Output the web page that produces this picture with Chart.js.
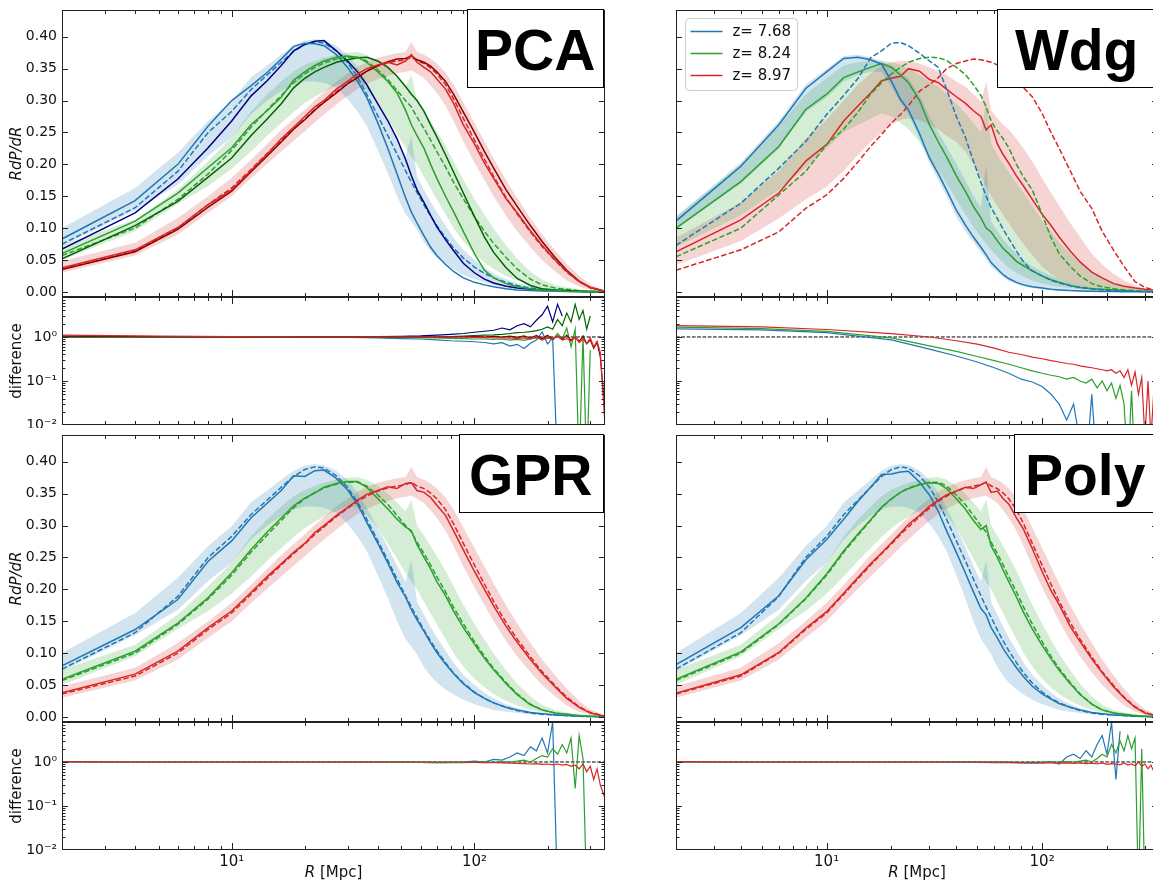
<!DOCTYPE html>
<html>
<head>
<meta charset="utf-8">
<script src="https://cdn.jsdelivr.net/npm/chart.js@4.4.1/dist/chart.umd.min.js"></script>
<style>
  html, body { margin: 0; padding: 0; background: #fff; overflow: hidden; width: 1153px; height: 880px; }
  canvas { position: absolute; }
</style>
</head>
<body>
<canvas id="pcaMain"></canvas>
<canvas id="pcaDiff"></canvas>
<canvas id="wdgMain"></canvas>
<canvas id="wdgDiff"></canvas>
<canvas id="gprMain"></canvas>
<canvas id="gprDiff"></canvas>
<canvas id="polyMain"></canvas>
<canvas id="polyDiff"></canvas>
<script>
/* ---------- data ---------- */
const R  = [2,4,6,8,10,12,14,16,18,20,22,24,27,30,33,36,40,44,48,52,55,58,62,66,70,76,82,90,100,110,120,135,150,170,190,215,240,270,300,345];
const RD = [2,5,10,20,30,40,50,60,70,80,90,100,110,120,130,140,150,160,170,180,190,200,210,220,230,240,250,260,270,280,290,300,310,320,330,345];

const REDSHIFTS = ['z= 7.68', 'z= 8.24', 'z= 8.97'];
const METHODS = ['PCA', 'Wdg', 'GPR', 'Poly'];
const Y_TICKS = [0, 0.05, 0.10, 0.15, 0.20, 0.25, 0.30, 0.35, 0.40];
const DIFF_TICKS = [0.01, 0.1, 1];
const DIFF_MINOR = [0.02,0.03,0.04,0.05,0.06,0.07,0.08,0.09,0.2,0.3,0.4,0.5,0.6,0.7,0.8,0.9,2,3,4,5,6,7,8];
const X_LABEL_TICKS = [10, 100];
const X_MINOR_TICKS = [3,4,5,6,7,8,9,20,30,40,50,60,70,80,90,200,300];
const SUP = { 0.01: '10\u207B\u00B2', 0.1: '10\u207B\u00B9', 1: '10\u2070', 10: '10\u00B9', 100: '10\u00B2' };
const X_TITLE = ['R', ' [Mpc]'];
const REF_X = [2, 345];
const REF_Y = [1, 1];

// truth curves (dashed) shared by PCA / GPR / Poly
const TRUE_BLUE  = [0.075,0.132,0.189,0.250,0.283, 0.317,0.340,0.360,0.377,0.388, 0.392,0.390,0.378,0.360,0.337, 0.310,0.276,0.245,0.216,0.190, 0.172,0.156,0.136,0.119,0.104, 0.085,0.069,0.053,0.039,0.029, 0.022,0.015,0.010,0.006,0.004, 0.003,0.002,0.001,0.0005,0.0002];
const TRUE_GREEN = [0.057,0.100,0.145,0.185,0.222, 0.258,0.285,0.308,0.328,0.342, 0.352,0.359,0.365,0.368,0.368, 0.362,0.348,0.333,0.316,0.300, 0.290,0.274,0.256,0.238,0.220, 0.196,0.172,0.146,0.118,0.095, 0.076,0.054,0.036,0.020,0.011, 0.006,0.004,0.002,0.001,0.0005];
const TRUE_RED   = [0.036,0.064,0.100,0.137,0.163, 0.192,0.217,0.238,0.256,0.271, 0.286,0.298,0.314,0.327,0.338, 0.346,0.354,0.359,0.362,0.364, 0.368,0.362,0.358,0.351,0.342, 0.325,0.303,0.272,0.238,0.208, 0.181,0.148,0.122,0.094,0.071, 0.049,0.031,0.016,0.007,0.001];

// scatter bands shared by PCA / GPR / Poly
const BAND_BLUE_HI  = [0.100,0.163,0.218,0.268,0.299, 0.336,0.355,0.372,0.386,0.394, 0.396,0.395,0.386,0.372,0.352, 0.328,0.296,0.266,0.237,0.212, 0.245,0.180,0.160,0.141,0.125, 0.104,0.085,0.066,0.050,0.038, 0.029,0.020,0.014,0.009,0.006, 0.004,0.003,0.002,0.001,0.0005];
const BAND_BLUE_LO  = [0.072,0.128,0.168,0.213,0.242, 0.278,0.300,0.315,0.325,0.330, 0.330,0.328,0.320,0.303,0.283, 0.260,0.222,0.186,0.150,0.122, 0.110,0.098,0.078,0.064,0.054, 0.043,0.035,0.027,0.020,0.015, 0.011,0.008,0.006,0.004,0.003, 0.002,0.001,0.0006,0.0003,0.0001];
const BAND_GREEN_HI = [0.074,0.113,0.160,0.205,0.242, 0.283,0.310,0.330,0.346,0.356, 0.362,0.367,0.372,0.375,0.376, 0.372,0.362,0.350,0.336,0.322, 0.340,0.300,0.284,0.268,0.252, 0.229,0.205,0.176,0.146,0.121, 0.099,0.073,0.052,0.032,0.019, 0.011,0.007,0.004,0.002,0.001];
const BAND_GREEN_LO = [0.050,0.095,0.138,0.166,0.193, 0.220,0.245,0.265,0.282,0.296, 0.306,0.314,0.324,0.330,0.328, 0.316,0.296,0.272,0.248,0.226, 0.212,0.200,0.180,0.162,0.145, 0.122,0.100,0.079,0.060,0.046, 0.036,0.025,0.018,0.011,0.007, 0.004,0.002,0.001,0.0005,0.0002];
const BAND_RED_HI   = [0.048,0.077,0.116,0.150,0.179, 0.207,0.232,0.254,0.271,0.286, 0.301,0.313,0.330,0.342,0.353, 0.360,0.367,0.371,0.374,0.376, 0.392,0.376,0.372,0.366,0.358, 0.344,0.325,0.297,0.265,0.236, 0.209,0.175,0.147,0.116,0.090, 0.065,0.044,0.025,0.012,0.002];
const BAND_RED_LO   = [0.030,0.057,0.090,0.124,0.150, 0.178,0.201,0.220,0.237,0.252, 0.266,0.278,0.294,0.307,0.318, 0.326,0.334,0.339,0.343,0.345, 0.347,0.342,0.335,0.324,0.312, 0.292,0.268,0.236,0.203,0.175, 0.150,0.119,0.095,0.070,0.050, 0.032,0.018,0.008,0.003,0.0005];

// PCA predictions (two solid lines per redshift)
const PCA_BLUE    = [0.083,0.143,0.200,0.260,0.300, 0.323,0.344,0.365,0.385,0.390, 0.389,0.386,0.372,0.352,0.330, 0.305,0.265,0.225,0.185,0.148, 0.125,0.108,0.088,0.070,0.057, 0.043,0.032,0.022,0.015,0.011, 0.008,0.005,0.003,0.002,0.0015, 0.001,0.0008,0.0005,0.0003,0.0001];
const PCA_NAVY    = [0.067,0.124,0.177,0.226,0.268, 0.307,0.331,0.355,0.378,0.388, 0.393,0.394,0.378,0.362,0.345, 0.325,0.295,0.268,0.240,0.208, 0.182,0.160,0.140,0.120,0.102, 0.082,0.065,0.045,0.030,0.020, 0.014,0.009,0.006,0.004,0.003, 0.002,0.001,0.0005,0.0003,0.0001];
const PCA_GREEN   = [0.060,0.111,0.155,0.195,0.226, 0.262,0.284,0.305,0.332,0.345, 0.355,0.362,0.368,0.370,0.368, 0.360,0.345,0.330,0.312,0.285, 0.262,0.245,0.225,0.200,0.178, 0.150,0.126,0.095,0.060,0.034, 0.022,0.013,0.008,0.005,0.003, 0.002,0.001,0.0006,0.0003,0.0001];
const PCA_DKGREEN = [0.052,0.104,0.142,0.180,0.210, 0.245,0.271,0.295,0.320,0.335, 0.345,0.352,0.360,0.364,0.367, 0.368,0.362,0.352,0.338,0.322, 0.310,0.300,0.283,0.262,0.243, 0.215,0.188,0.155,0.118,0.086, 0.062,0.038,0.021,0.010,0.005, 0.003,0.002,0.001,0.0005,0.0002];
const PCA_RED     = [0.038,0.066,0.101,0.137,0.160, 0.190,0.216,0.240,0.258,0.275, 0.290,0.300,0.318,0.330,0.342, 0.350,0.356,0.360,0.356,0.362, 0.372,0.360,0.352,0.345,0.334, 0.318,0.296,0.262,0.232,0.202, 0.178,0.146,0.124,0.096,0.073, 0.050,0.032,0.016,0.007,0.001];
const PCA_DKRED   = [0.035,0.063,0.098,0.133,0.158, 0.188,0.213,0.235,0.255,0.270, 0.285,0.297,0.312,0.326,0.336, 0.346,0.355,0.361,0.365,0.366, 0.370,0.364,0.360,0.354,0.345, 0.330,0.310,0.282,0.250,0.220, 0.194,0.160,0.134,0.104,0.079, 0.054,0.034,0.017,0.007,0.001];

// GPR predictions
const GPR_BLUE  = [0.080,0.137,0.184,0.244,0.276, 0.312,0.335,0.355,0.378,0.377, 0.386,0.387,0.374,0.356,0.333, 0.305,0.272,0.241,0.211,0.188, 0.168,0.152,0.134,0.116,0.101, 0.083,0.068,0.052,0.038,0.029, 0.022,0.015,0.011,0.007,0.005, 0.003,0.002,0.001,0.0006,0.0003];
const GPR_GREEN = [0.059,0.103,0.147,0.187,0.226, 0.262,0.290,0.312,0.331,0.343, 0.351,0.360,0.366,0.369,0.369, 0.360,0.342,0.326,0.310,0.298, 0.292,0.270,0.250,0.232,0.212, 0.190,0.166,0.140,0.114,0.092, 0.074,0.052,0.035,0.019,0.011, 0.006,0.004,0.002,0.001,0.0005];
const GPR_RED   = [0.038,0.067,0.103,0.140,0.166, 0.195,0.220,0.240,0.258,0.272, 0.289,0.300,0.316,0.328,0.340, 0.349,0.355,0.361,0.358,0.366, 0.367,0.355,0.352,0.344,0.332, 0.316,0.292,0.262,0.228,0.200, 0.174,0.142,0.117,0.090,0.068, 0.047,0.029,0.015,0.006,0.001];

// Poly predictions
const POLY_BLUE  = [0.082,0.140,0.190,0.246,0.278, 0.310,0.338,0.360,0.380,0.381, 0.384,0.385,0.368,0.348,0.322, 0.292,0.258,0.226,0.196,0.170, 0.160,0.140,0.124,0.107,0.094, 0.077,0.063,0.048,0.036,0.028, 0.021,0.015,0.011,0.007,0.005, 0.003,0.002,0.001,0.0006,0.0003];
const POLY_GREEN = [0.059,0.102,0.146,0.186,0.224, 0.260,0.287,0.309,0.329,0.342, 0.352,0.358,0.364,0.367,0.366, 0.358,0.342,0.326,0.308,0.294, 0.300,0.268,0.250,0.230,0.212, 0.188,0.164,0.138,0.112,0.091, 0.073,0.052,0.035,0.020,0.011, 0.006,0.004,0.002,0.001,0.0005];
const POLY_RED   = [0.037,0.066,0.101,0.139,0.165, 0.194,0.219,0.240,0.257,0.273, 0.288,0.302,0.316,0.330,0.340, 0.348,0.354,0.360,0.358,0.364, 0.368,0.352,0.354,0.342,0.334, 0.312,0.294,0.264,0.228,0.198, 0.176,0.142,0.118,0.091,0.069, 0.047,0.030,0.015,0.006,0.001];

// Wdg: solid predictions, dashed references, bands
const WDG_BLUE   = [0.111,0.197,0.262,0.319,0.345, 0.366,0.368,0.364,0.357,0.330, 0.302,0.285,0.248,0.210,0.185, 0.160,0.128,0.105,0.086,0.070, 0.058,0.046,0.036,0.027,0.021, 0.015,0.011,0.008,0.006,0.004, 0.003,0.002,0.0015,0.001,0.0008, 0.0005,0.0004,0.0003,0.0002,0.0001];
const WDG_GREEN  = [0.100,0.173,0.228,0.286,0.310, 0.336,0.345,0.352,0.358,0.352, 0.340,0.328,0.300,0.262,0.235, 0.212,0.182,0.158,0.134,0.116, 0.100,0.094,0.080,0.068,0.060, 0.048,0.041,0.033,0.025,0.019, 0.015,0.010,0.007,0.005,0.004, 0.003,0.002,0.001,0.0006,0.0003];
const WDG_RED    = [0.063,0.113,0.155,0.205,0.231, 0.268,0.292,0.312,0.331,0.335, 0.338,0.350,0.346,0.333,0.328, 0.318,0.306,0.296,0.284,0.275, 0.254,0.262,0.232,0.215,0.202, 0.182,0.166,0.145,0.122,0.104, 0.086,0.064,0.047,0.031,0.022, 0.013,0.009,0.006,0.004,0.002];
const WDGT_BLUE  = [0.073,0.139,0.194,0.236,0.278, 0.308,0.335,0.367,0.378,0.390, 0.391,0.386,0.374,0.362,0.352, 0.318,0.275,0.243,0.205,0.172, 0.150,0.132,0.115,0.098,0.084, 0.064,0.047,0.033,0.025,0.018, 0.014,0.010,0.007,0.005,0.003, 0.002,0.0015,0.001,0.0005,0.0002];
const WDGT_GREEN = [0.055,0.100,0.152,0.189,0.231, 0.255,0.282,0.310,0.328,0.342, 0.352,0.360,0.366,0.368,0.367, 0.363,0.352,0.341,0.325,0.308, 0.290,0.268,0.252,0.240,0.226, 0.200,0.180,0.160,0.122,0.085, 0.060,0.040,0.025,0.013,0.008, 0.005,0.003,0.002,0.001,0.0005];
const WDGT_RED   = [0.034,0.066,0.094,0.131,0.152, 0.178,0.204,0.228,0.247,0.265, 0.278,0.292,0.315,0.325,0.336, 0.350,0.358,0.362,0.365,0.364, 0.362,0.360,0.356,0.352,0.344, 0.333,0.320,0.306,0.280,0.250, 0.225,0.190,0.158,0.131,0.095, 0.065,0.040,0.016,0.007,0.001];
const WDG_BAND_BLUE_HI  = [0.118,0.203,0.268,0.325,0.350, 0.370,0.372,0.368,0.362,0.355, 0.345,0.335,0.308,0.275,0.250, 0.228,0.200,0.175,0.150,0.132, 0.200,0.110,0.095,0.082,0.072, 0.060,0.050,0.040,0.032,0.025, 0.020,0.014,0.010,0.007,0.005, 0.004,0.003,0.002,0.001,0.0005];
const WDG_BAND_BLUE_LO  = [0.098,0.170,0.225,0.282,0.305, 0.330,0.340,0.345,0.345,0.322, 0.296,0.278,0.240,0.202,0.175, 0.150,0.118,0.095,0.078,0.062, 0.052,0.040,0.031,0.023,0.017, 0.012,0.009,0.006,0.004,0.003, 0.002,0.0015,0.001,0.0008,0.0005, 0.0004,0.0003,0.0002,0.0001,0.0001];
const WDG_BAND_GREEN_HI = [0.118,0.200,0.260,0.310,0.335, 0.355,0.360,0.362,0.362,0.360, 0.356,0.350,0.340,0.330,0.322, 0.310,0.295,0.280,0.265,0.250, 0.300,0.232,0.215,0.200,0.188, 0.170,0.155,0.135,0.112,0.095, 0.078,0.060,0.045,0.032,0.022, 0.014,0.009,0.005,0.003,0.001];
const WDG_BAND_GREEN_LO = [0.070,0.120,0.160,0.195,0.225, 0.250,0.262,0.272,0.280,0.275, 0.265,0.255,0.235,0.210,0.190, 0.170,0.145,0.122,0.102,0.086, 0.075,0.066,0.055,0.046,0.038, 0.030,0.024,0.018,0.013,0.010, 0.008,0.006,0.004,0.003,0.002, 0.0015,0.001,0.0006,0.0003,0.0001];
const WDG_BAND_RED_HI   = [0.085,0.140,0.190,0.240,0.270, 0.300,0.325,0.342,0.355,0.360, 0.362,0.362,0.358,0.352,0.346, 0.340,0.330,0.322,0.310,0.298, 0.330,0.285,0.272,0.262,0.255, 0.240,0.225,0.205,0.178,0.155, 0.135,0.108,0.086,0.060,0.043, 0.028,0.018,0.010,0.005,0.002];
const WDG_BAND_RED_LO   = [0.042,0.080,0.115,0.145,0.165, 0.190,0.215,0.235,0.250,0.262, 0.270,0.272,0.270,0.262,0.255, 0.245,0.235,0.220,0.200,0.180, 0.165,0.150,0.135,0.120,0.108, 0.090,0.075,0.058,0.040,0.028, 0.020,0.013,0.009,0.006,0.004, 0.002,0.001,0.0006,0.0003,0.0001];

// difference panels (on RD grid)
const D_PCA_NAVY    = [1.00,1.00,1.00,1.00,1.00,1.02,1.04,1.06,1.10,1.15, 1.20,1.28,1.35,1.42,1.60,1.45,1.80,2.00,1.70,2.40, 3.20,5.00,2.20,5.50,3.00,null,null,null,null,null, null,null,null,null,null,null];
const D_PCA_BLUE    = [1.00,1.00,1.00,1.00,0.98,0.95,0.92,0.90,0.86,0.82, 0.80,0.78,0.75,0.70,0.74,0.62,0.68,0.55,0.72,0.85, 1.30,0.70,0.95,0.001,null,null,null,null,null,null, null,null,null,null,null,null];
const D_PCA_GREEN   = [1.00,1.00,1.00,1.00,1.00,1.00,0.98,0.97,0.95,0.93, 0.92,0.90,0.90,0.88,0.90,0.85,0.88,0.84,0.90,0.95, 0.88,1.00,0.85,1.20,0.90,1.60,0.60,1.50,0.001,1.10, 0.001,0.50,null,null,null,null];
const D_PCA_DKGREEN = [1.00,1.00,1.00,1.00,1.00,1.00,1.00,1.00,1.00,1.02, 1.05,1.08,1.10,1.12,1.15,1.20,1.25,1.28,1.32,1.40, 1.50,1.70,1.50,2.50,1.80,3.50,2.20,5.50,2.50,4.00, 1.50,3.00,null,null,null,null];
const D_PCA_RED     = [1.10,1.05,1.02,1.00,1.00,1.00,1.00,1.00,1.00,1.00, 1.00,0.98,0.97,0.96,0.95,0.94,0.93,0.95,0.90,1.00, 0.85,0.95,0.90,1.05,0.85,0.92,0.80,1.00,0.75,0.90, 0.70,0.95,0.60,0.80,0.45,0.01];
const D_PCA_DKRED   = [1.05,1.02,1.00,1.00,1.00,1.00,1.00,1.00,1.00,1.00, 1.02,1.03,1.00,1.04,1.00,1.05,0.98,1.06,0.95,1.08, 0.92,1.10,0.90,1.05,0.88,1.10,0.85,1.00,0.80,1.05, 0.70,0.85,0.55,0.75,0.35,0.02];

const D_WDG_BLUE  = [1.53,1.45,1.25,0.86,0.53,0.37,0.27,0.20,0.15,0.11, 0.095,0.075,0.05,0.03,0.013,0.03,0.004,0.001,0.05,0.001, null,null,null,null,null,null,null,null,null,null, null,null,null,null,null,null];
const D_WDG_GREEN = [1.67,1.55,1.34,0.95,0.63,0.47,0.36,0.29,0.24,0.20, 0.17,0.15,0.135,0.125,0.11,0.12,0.10,0.09,0.11,0.07, 0.10,0.06,0.09,0.04,0.08,0.03,0.001,0.06,0.001,null, null,null,null,null,null,null];
const D_WDG_RED   = [1.82,1.70,1.48,1.19,1.00,0.82,0.69,0.56,0.45,0.40, 0.35,0.32,0.29,0.27,0.25,0.24,0.22,0.21,0.20,0.19, 0.18,0.17,0.18,0.15,0.17,0.12,0.18,0.08,0.16,0.05, 0.12,0.005,0.10,0.005,0.06,0.02];

const D_GPR_BLUE  = [1.00,1.00,1.00,1.00,1.00,1.00,1.00,0.98,0.97,0.98, 1.00,1.05,1.00,1.15,1.10,1.30,1.60,1.40,2.20,1.80, 3.50,1.60,8.00,0.001,null,null,null,null,null,null, null,null,null,null,null,null];
const D_GPR_GREEN = [1.00,1.00,1.00,1.00,1.00,1.00,0.99,0.98,0.97,0.96, 0.97,0.98,1.00,0.98,1.02,1.00,1.05,1.10,1.00,1.20, 1.40,1.30,2.00,1.50,2.50,1.60,3.50,0.25,4.00,1.20, 0.001,null,null,null,null,null];
const D_GPR_RED   = [1.02,1.00,1.00,1.00,1.00,1.00,1.00,1.00,1.00,1.00, 1.00,0.98,0.97,0.96,0.95,0.94,0.93,0.92,0.90,0.92, 0.88,0.90,0.86,0.90,0.85,0.88,0.80,0.85,0.70,0.90, 0.60,0.80,0.40,0.70,0.30,0.15];

const D_POLY_BLUE  = [1.00,1.00,1.00,1.00,1.00,0.99,0.98,0.97,0.96,0.95, 0.94,0.95,1.00,0.90,1.30,1.50,1.20,1.80,1.30,2.50, 4.00,1.50,8.00,0.40,5.00,null,null,null,null,null, null,null,null,null,null,null];
const D_POLY_GREEN = [1.00,1.00,1.00,1.00,1.00,1.00,1.00,0.99,0.99,0.98, 0.98,0.99,1.00,1.00,1.02,1.00,1.05,1.10,1.00,1.20, 1.50,1.30,2.50,1.60,3.00,1.80,4.00,2.00,3.50,0.001, 2.00,0.001,null,null,null,null];
const D_POLY_RED   = [1.02,1.00,1.00,1.00,1.00,1.00,1.00,0.99,0.98,0.97, 0.96,0.95,0.96,0.94,0.95,0.93,0.95,0.92,0.94,0.90, 0.95,0.88,0.92,0.90,0.86,0.95,0.85,0.90,0.82,1.00, 0.80,0.90,0.70,0.85,0.60,0.40];

/* ---------- styles ---------- */
const FONT = "'DejaVu Sans', sans-serif";
const TAG_FONT = "bold 57px 'Liberation Sans', Arial, sans-serif";
const BLUE = '#1f77b4', GREEN = '#2ca02c', RED = '#d62728';
const NAVY = '#000080', DKGREEN = '#006400', DKRED = '#8b0000';
const FILL = { blue: 'rgba(31,119,180,0.2)', green: 'rgba(44,160,44,0.2)', red: 'rgba(214,39,40,0.2)' };
const DASH = [5.5, 2.4];
const INK = '#111';

const GEOM_COL = [
  { left: 0,   width: 612, padL: 0, padR: 7, yAxis: true },
  { left: 609, width: 556, padL: 5, padR: 7, yAxis: false }
];
const GEOM_ROW = {
  main0: { top: 0,   height: 300, padT: 10, padB: 3 },
  diff0: { top: 294, height: 134, padT: 3,  padB: 3 },
  main1: { top: 432, height: 293, padT: 3,  padB: 3 },
  diff1: { top: 719, height: 161, padT: 3,  padB: 0, xAxis: true }
};

function pts(xs, ys) { return xs.map((x, i) => ({ x, y: ys[i] })); }

function bandSets(lo, hi, fill) {
  return [
    { data: pts(R, lo), borderWidth: 0, borderColor: 'rgba(0,0,0,0)', pointRadius: 0, fill: false, order: 10 },
    { data: pts(R, hi), borderWidth: 0, borderColor: 'rgba(0,0,0,0)', pointRadius: 0, fill: '-1', backgroundColor: fill, order: 10 }
  ];
}

function lineSet(xs, ys, color, width, dash, order) {
  return { data: pts(xs, ys), borderColor: color, borderWidth: width, borderDash: dash || [],
           pointRadius: 0, fill: false, tension: 0, spanGaps: false, order: order || 0 };
}
const mainLine = (ys, color, dash) => lineSet(R, ys, color, 1.5, dash);
const diffLine = (ys, color) => lineSet(RD, ys, color, 1.2);
const refLine = () => lineSet(REF_X, REF_Y, '#000', 1, [3.7, 1.6], 5);

// no label overhang padding: the plot box must sit exactly where it is placed
function noPad(s) { s.paddingTop = 0; s.paddingBottom = 0; s.paddingLeft = 0; s.paddingRight = 0; }

/* ---------- plugins ---------- */
const framePlugin = {
  id: 'frame',
  afterDatasetsDraw(chart, args, o) {
    const { ctx, chartArea: a, scales: { x, y } } = chart;
    ctx.save();
    ctx.strokeStyle = '#222';
    ctx.lineWidth = 1;
    ctx.beginPath();
    const tickX = (v, len) => {
      const p = Math.round(x.getPixelForValue(v)) + 0.5;
      if (p <= a.left + 1 || p >= a.right - 1) return;
      ctx.moveTo(p, a.bottom); ctx.lineTo(p, a.bottom - len);
      ctx.moveTo(p, a.top); ctx.lineTo(p, a.top + len);
    };
    const tickY = (v, len) => {
      const p = Math.round(y.getPixelForValue(v)) + 0.5;
      if (p < a.top || p > a.bottom) return;
      ctx.moveTo(a.left, p); ctx.lineTo(a.left + len, p);
      ctx.moveTo(a.right, p); ctx.lineTo(a.right - len, p);
    };
    X_LABEL_TICKS.forEach(v => tickX(v, 7));
    X_MINOR_TICKS.forEach(v => tickX(v, 4));
    (o.major || []).forEach(v => tickY(v, 6));
    (o.minor || []).forEach(v => tickY(v, 3.5));
    ctx.stroke();
    ctx.strokeRect(Math.round(a.left) + 0.5, Math.round(a.top) + 0.5, Math.round(a.width) - 1, Math.round(a.height) - 1);
    ctx.restore();
  }
};

const tagPlugin = {
  id: 'tag',
  afterDraw(chart, args, o) {
    if (!o.text) return;
    const { ctx, chartArea: a } = chart;
    ctx.save();
    ctx.font = TAG_FONT;
    const w = Math.round(ctx.measureText(o.text).width + 2 * o.pad);
    const right = Math.round(a.right) - 2, top = Math.round(a.top) - 1, h = 78;
    const left = right - w;
    ctx.fillStyle = '#fff';
    ctx.fillRect(left, top, w, h);
    ctx.strokeStyle = '#000';
    ctx.lineWidth = 1;
    ctx.strokeRect(left + 0.5, top + 0.5, w, h);
    ctx.fillStyle = '#000';
    ctx.textBaseline = 'alphabetic';
    ctx.fillText(o.text, left + o.pad, top + 61);
    ctx.restore();
  }
};

const legendPlugin = {
  id: 'zlegend',
  afterDraw(chart, args, o) {
    if (!o.items) return;
    const { ctx, chartArea: a } = chart;
    const x0 = Math.round(a.left) + 9.5, y0 = Math.round(a.top) + 8.5, w = 112, h = 72, r = 4;
    ctx.save();
    ctx.beginPath();
    ctx.moveTo(x0 + r, y0);
    ctx.arcTo(x0 + w, y0, x0 + w, y0 + h, r);
    ctx.arcTo(x0 + w, y0 + h, x0, y0 + h, r);
    ctx.arcTo(x0, y0 + h, x0, y0, r);
    ctx.arcTo(x0, y0, x0 + w, y0, r);
    ctx.closePath();
    ctx.fillStyle = 'rgba(255,255,255,0.85)';
    ctx.fill();
    ctx.strokeStyle = '#cccccc';
    ctx.lineWidth = 1;
    ctx.stroke();
    ctx.font = `15px ${FONT}`;
    ctx.textBaseline = 'middle';
    o.items.forEach((it, i) => {
      const yy = y0 + 13 + 22 * i;
      ctx.strokeStyle = it.color;
      ctx.lineWidth = 1.5;
      ctx.beginPath();
      ctx.moveTo(x0 + 5, yy); ctx.lineTo(x0 + 37, yy);
      ctx.stroke();
      ctx.fillStyle = INK;
      ctx.fillText(it.label, x0 + 47, yy + 1);
    });
    ctx.restore();
  }
};

const xTitlePlugin = {
  id: 'xtitle',
  afterDraw(chart, args, o) {
    if (!o.show) return;
    const { ctx, chartArea: a } = chart;
    ctx.save();
    ctx.fillStyle = INK;
    ctx.textBaseline = 'alphabetic';
    ctx.font = `italic 15px ${FONT}`;
    const w1 = ctx.measureText(X_TITLE[0]).width;
    ctx.font = `15px ${FONT}`;
    const w2 = ctx.measureText(X_TITLE[1]).width;
    const x0 = (a.left + a.right) / 2 - (w1 + w2) / 2, yy = a.bottom + 27;
    ctx.font = `italic 15px ${FONT}`;
    ctx.fillText(X_TITLE[0], x0, yy);
    ctx.font = `15px ${FONT}`;
    ctx.fillText(X_TITLE[1], x0 + w1, yy);
    ctx.restore();
  }
};

/* ---------- panel factory ---------- */
function makePanel(id, col, rowKey, diff, datasets, extra) {
  const c = GEOM_COL[col], r = GEOM_ROW[rowKey];
  const el = document.getElementById(id);
  el.width = c.width;
  el.height = r.height;
  el.style.left = c.left + 'px';
  el.style.top = r.top + 'px';
  const tickFont = { family: FONT, size: 14 };

  const yScale = diff ? {
    type: 'logarithmic', min: 0.01, max: 8.1,
    afterBuildTicks: s => { s.ticks = DIFF_TICKS.map(v => ({ value: v })); },
    ticks: { font: tickFont, color: INK, padding: 5, callback: v => SUP[v] || '' },
    title: { display: true, text: 'difference', font: { family: FONT, size: 15 }, color: INK, padding: { top: 8 } }
  } : {
    type: 'linear', min: -0.008, max: 0.442,
    afterBuildTicks: s => { s.ticks = Y_TICKS.map(v => ({ value: v })); },
    ticks: { font: tickFont, color: INK, padding: 5, callback: v => Number(v).toFixed(2) },
    title: { display: true, text: 'RdP/dR', font: { family: FONT, size: 15, style: 'italic' }, color: INK, padding: { top: 8 } }
  };
  Object.assign(yScale, {
    display: c.yAxis,
    grid: { display: false, drawTicks: false },
    border: { display: false },
    afterFit: s => { s.width = 62; noPad(s); }
  });

  return new Chart(el, {
    type: 'line',
    data: { datasets },
    options: {
      responsive: false,
      animation: false,
      devicePixelRatio: 1,
      layout: { padding: { left: c.padL, right: c.padR, top: r.padT, bottom: r.padB } },
      plugins: {
        legend: { display: false },
        tooltip: { enabled: false },
        frame: diff ? { major: DIFF_TICKS, minor: DIFF_MINOR } : { major: Y_TICKS },
        tag: extra.tag || {},
        zlegend: extra.legend || {},
        xtitle: { show: !!r.xAxis }
      },
      scales: {
        x: {
          type: 'logarithmic', min: 2, max: 345,
          display: !!r.xAxis,
          grid: { display: false, drawTicks: false },
          border: { display: false },
          afterBuildTicks: s => { s.ticks = X_LABEL_TICKS.map(v => ({ value: v })); },
          ticks: { font: { family: FONT, size: 15 }, color: INK, padding: 3, maxRotation: 0, autoSkip: false, callback: v => SUP[v] || '' },
          afterFit: s => { s.height = r.xAxis ? 30 : 0; noPad(s); }
        },
        y: yScale
      }
    },
    plugins: [framePlugin, tagPlugin, legendPlugin, xTitlePlugin]
  });
}

/* ---------- panels ---------- */
const sharedBands = () => [
  ...bandSets(BAND_BLUE_LO, BAND_BLUE_HI, FILL.blue),
  ...bandSets(BAND_GREEN_LO, BAND_GREEN_HI, FILL.green),
  ...bandSets(BAND_RED_LO, BAND_RED_HI, FILL.red)
];

makePanel('pcaMain', 0, 'main0', false, [
  mainLine(PCA_RED, RED), mainLine(PCA_DKRED, DKRED), mainLine(TRUE_RED, RED, DASH),
  mainLine(PCA_GREEN, GREEN), mainLine(PCA_DKGREEN, DKGREEN), mainLine(TRUE_GREEN, GREEN, DASH),
  mainLine(PCA_BLUE, BLUE), mainLine(PCA_NAVY, NAVY), mainLine(TRUE_BLUE, BLUE, DASH),
  ...sharedBands()
], { tag: { text: METHODS[0], pad: 8 } });

makePanel('pcaDiff', 0, 'diff0', true, [
  diffLine(D_PCA_RED, RED), diffLine(D_PCA_DKRED, DKRED),
  diffLine(D_PCA_GREEN, GREEN), diffLine(D_PCA_DKGREEN, DKGREEN),
  diffLine(D_PCA_BLUE, BLUE), diffLine(D_PCA_NAVY, NAVY),
  refLine()
], {});

makePanel('wdgMain', 1, 'main0', false, [
  mainLine(WDG_BLUE, BLUE), mainLine(WDGT_BLUE, BLUE, DASH),
  mainLine(WDG_GREEN, GREEN), mainLine(WDGT_GREEN, GREEN, DASH),
  mainLine(WDG_RED, RED), mainLine(WDGT_RED, RED, DASH),
  ...bandSets(WDG_BAND_BLUE_LO, WDG_BAND_BLUE_HI, FILL.blue),
  ...bandSets(WDG_BAND_GREEN_LO, WDG_BAND_GREEN_HI, FILL.green),
  ...bandSets(WDG_BAND_RED_LO, WDG_BAND_RED_HI, FILL.red)
], {
  tag: { text: METHODS[1], pad: 18 },
  legend: { items: [ { label: REDSHIFTS[0], color: BLUE }, { label: REDSHIFTS[1], color: GREEN }, { label: REDSHIFTS[2], color: RED } ] }
});

makePanel('wdgDiff', 1, 'diff0', true, [
  diffLine(D_WDG_RED, RED), diffLine(D_WDG_GREEN, GREEN), diffLine(D_WDG_BLUE, BLUE),
  refLine()
], {});

makePanel('gprMain', 0, 'main1', false, [
  mainLine(GPR_RED, RED), mainLine(TRUE_RED, RED, DASH),
  mainLine(GPR_GREEN, GREEN), mainLine(TRUE_GREEN, GREEN, DASH),
  mainLine(GPR_BLUE, BLUE), mainLine(TRUE_BLUE, BLUE, DASH),
  ...sharedBands()
], { tag: { text: METHODS[2], pad: 10 } });

makePanel('gprDiff', 0, 'diff1', true, [
  diffLine(D_GPR_RED, RED), diffLine(D_GPR_GREEN, GREEN), diffLine(D_GPR_BLUE, BLUE),
  refLine()
], {});

makePanel('polyMain', 1, 'main1', false, [
  mainLine(POLY_RED, RED), mainLine(TRUE_RED, RED, DASH),
  mainLine(POLY_GREEN, GREEN), mainLine(TRUE_GREEN, GREEN, DASH),
  mainLine(POLY_BLUE, BLUE), mainLine(TRUE_BLUE, BLUE, DASH),
  ...sharedBands()
], { tag: { text: METHODS[3], pad: 11 } });

makePanel('polyDiff', 1, 'diff1', true, [
  diffLine(D_POLY_RED, RED), diffLine(D_POLY_GREEN, GREEN), diffLine(D_POLY_BLUE, BLUE),
  refLine()
], {});
</script>
</body>
</html>
